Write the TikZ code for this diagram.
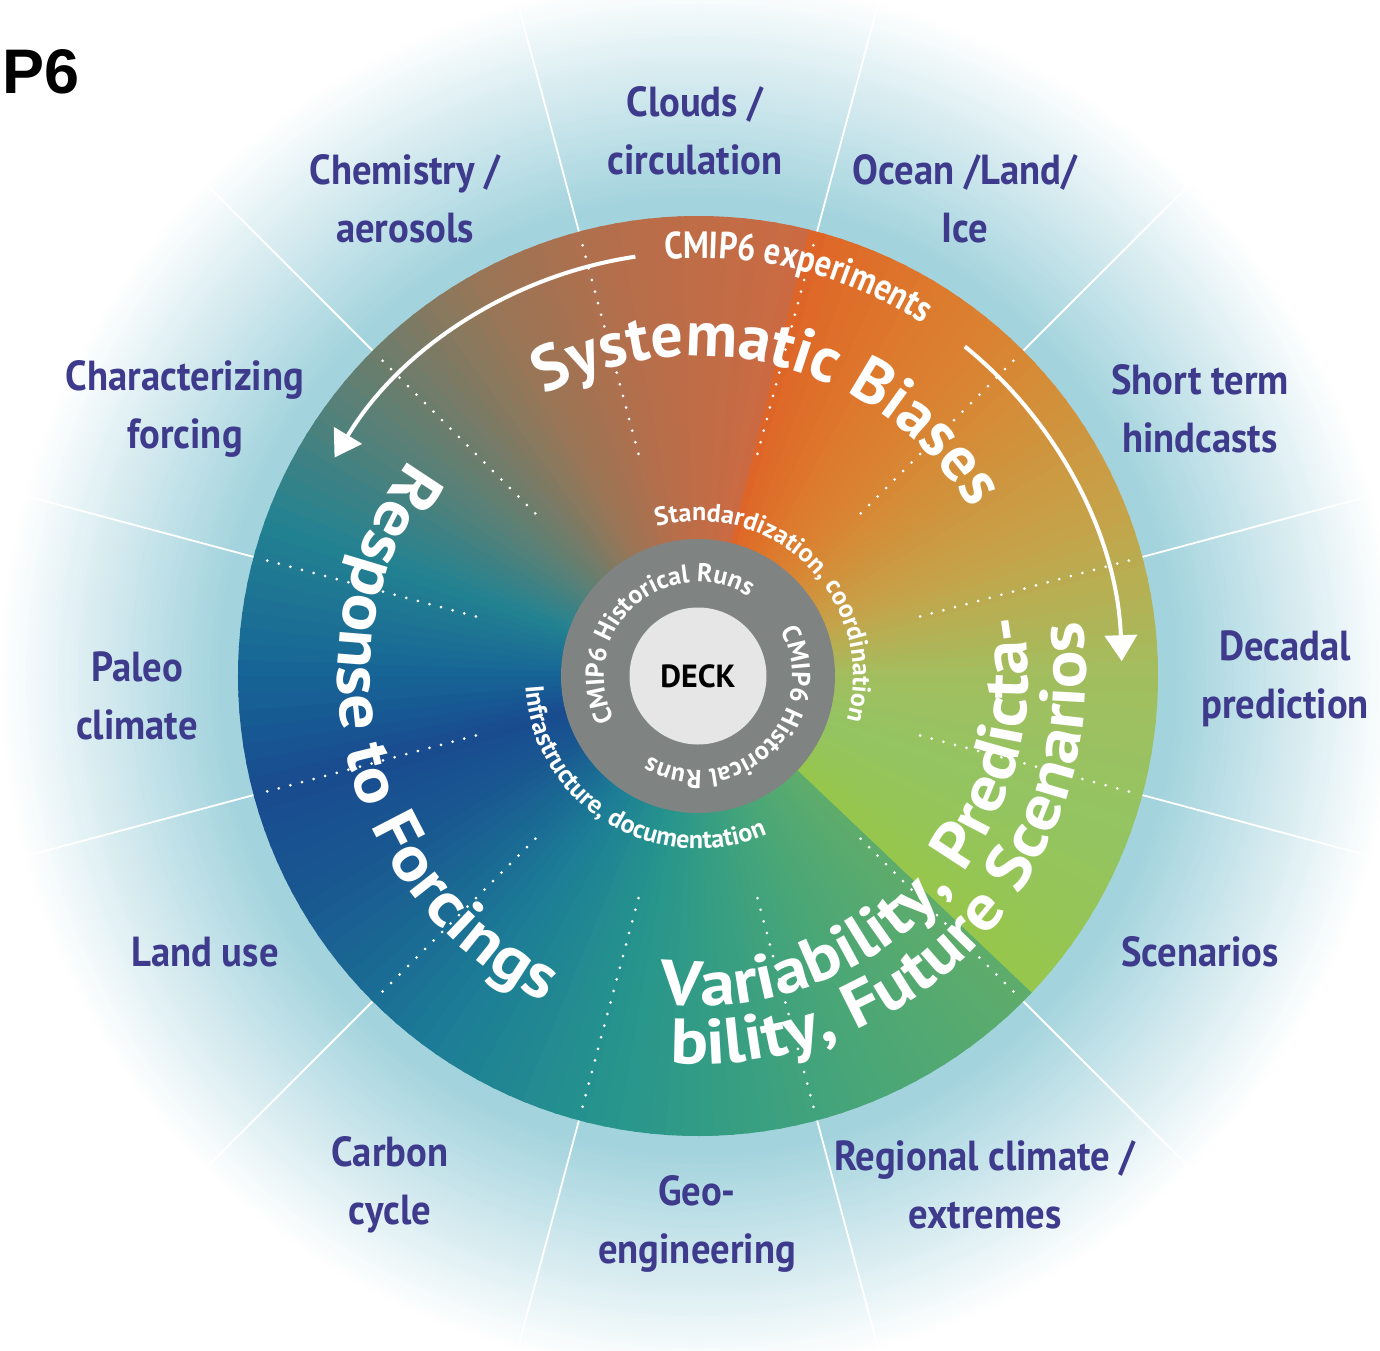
\documentclass[tikz,border=0pt]{standalone}
\usepackage{fontspec}
\setmainfont{PT Sans}
\newfontfamily\lblfont[FakeStretch=0.92]{PT Sans}
\newfontfamily\cmipfont[FakeStretch=0.85]{PT Sans}
\newfontfamily\wheelfont[FakeStretch=1.1]{PT Sans}
\newfontfamily\headfont{Liberation Sans}
\usetikzlibrary{decorations.text,arrows.meta}

\definecolor{lblblue}{RGB}{62,58,140}
\definecolor{halo}{RGB}{163,211,221}
\definecolor{ringgray}{RGB}{127,131,129}
\definecolor{deckgray}{RGB}{230,230,230}
% disk colours, counter-clockwise from -44 deg
\definecolor{s1}{RGB}{150,198,75}
\definecolor{s2}{RGB}{148,196,98}
\definecolor{s3}{RGB}{162,190,95}
\definecolor{s4}{RGB}{196,165,75}
\definecolor{s5}{RGB}{216,135,52}
\definecolor{s6}{RGB}{222,115,42}
\definecolor{s7}{RGB}{222,100,40}
\definecolor{s8}{RGB}{204,106,66}
\definecolor{s9}{RGB}{182,110,74}
\definecolor{s10}{RGB}{150,118,88}
\definecolor{s11}{RGB}{95,128,115}
\definecolor{s12}{RGB}{35,130,145}
\definecolor{s13}{RGB}{22,100,150}
\definecolor{s14}{RGB}{25,75,143}
\definecolor{s15}{RGB}{25,88,145}
\definecolor{s16}{RGB}{28,125,150}
\definecolor{s17}{RGB}{40,150,140}
\definecolor{s18}{RGB}{70,165,120}
\definecolor{s19}{RGB}{95,172,108}

\newcommand\bigtxt{\color{white}\wheelfont\bfseries\fontsize{32}{34}\selectfont}
\newcommand\toptxt{\color{white}\bfseries\fontsize{32}{34}\selectfont}
\newcommand\midtxt{\color{white}\cmipfont\bfseries\fontsize{19}{22}\selectfont}
\newcommand\smalltxt{\color{white}\bfseries\fontsize{13}{15}\selectfont}

\begin{document}
\begin{tikzpicture}[%
	x=0.5pt, y=0.5pt,
	lbl/.style={font=\lblfont\bfseries\fontsize{21}{29}\selectfont, text=lblblue, align=center},
	dotline/.style={white, line width=1.5pt, line cap=round, dash pattern=on 0pt off 6pt},
	spoke/.style={white, line width=0.9pt},
	arr/.style={white, line width=2pt, -{Triangle[length=13pt, width=16pt]}},
	curved/.style={decorate, decoration={text along path, text align=center, text={#1}}}
	]
	\clip (-698,-674) rectangle (682,676);
	\fill[white] (-698,-674) rectangle (682,676);
	
	% halo
	\foreach \rr in {700,696,...,460} {
		\pgfmathtruncatemacro\p{min(100,(700-\rr)/2.2)}
		\fill[halo!\p!white] (0,0) circle[radius=\rr];
	}
	\foreach \k in {0,...,11}
	\draw[spoke] ({15+30*\k}:460) -- ({15+30*\k}:720);
	
	% colour wheel
	\foreach \a/\b/\ca/\cb in {-44/-20/s1/s2, -20/0/s2/s3, 0/20/s3/s4, 20/45/s4/s5, 45/65/s5/s6, 65/76/s6/s7,
		76/100/s8/s9, 100/120/s9/s10, 120/140/s10/s11, 140/160/s11/s12, 160/180/s12/s13, 180/195/s13/s14,
		195/210/s14/s15, 210/235/s15/s16, 235/260/s16/s17, 260/290/s17/s18, 290/316/s18/s19} {
		\pgfmathtruncatemacro\n{max(1,(\b-\a)/2)}
		\foreach \i in {1,...,\n} {
			\pgfmathsetmacro\sa{\a+(\i-1)*(\b-\a)/\n}
			\pgfmathtruncatemacro\pc{100-100*(\i-0.5)/\n}
			\fill[\ca!\pc!\cb] (0,0) -- (\sa:460) arc[start angle=\sa, delta angle={(\b-\a)/\n+0.5}, radius=460] -- cycle;
		}
	}
	\foreach \k in {0,...,11}
	\draw[dotline] ({15+30*\k}:230) -- ({15+30*\k}:456);
	
	\draw[arr] (98.5:424) arc[start angle=98.5, end angle=149, radius=424];
	\draw[arr] (51:424) arc[start angle=51, end angle=2, radius=424];
	
	\path[curved={|\midtxt|CMIP6 experiments}] (130:418) arc[start angle=130, end angle=22, radius=418];
	\path[curved={|\toptxt|Systematic Biases}] (160:320) arc[start angle=160, end angle=-10, radius=320];
	\path[curved={|\bigtxt|Response to Forcings}] (110:360) arc[start angle=110, end angle=278, radius=360];
	\path[curved={|\bigtxt|Variability, Predicta-}] (240:330) arc[start angle=240, end angle=394, radius=330];
	\path[curved={|\bigtxt|bility, Future Scenarios}] (240:388) arc[start angle=240, end angle=394, radius=388];
	\path[curved={|\smalltxt|Standardization, coordination}] (144.5:155) arc[start angle=144.5, end angle=-55.5, radius=155];
	\path[curved={|\smalltxt|Infrastructure, documentation}] (138.5:173) arc[start angle=138.5, end angle=338.5, radius=173];
	
	% DECK core
	\fill[ringgray] (0,0) circle[radius=137];
	\node[circle, fill=deckgray, minimum size=68.5pt, inner sep=0pt, font=\bfseries\fontsize{16}{17}\selectfont] (deck) at (0,0) {DECK};
	\path[curved={|\smalltxt|CMIP6 Historical Runs}] (232.5:94) arc[start angle=232.5, end angle=32.5, radius=94];
	\path[curved={|\smalltxt|CMIP6 Historical Runs}] (54:94) arc[start angle=54, end angle=-146, radius=94];
	
	\node[lbl] (clouds) at (-3,545) {Clouds /\\circulation};
	\node[lbl] (chem) at (-293,477) {Chemistry /\\aerosols};
	\node[lbl] (ocean) at (267,477) {Ocean /Land/\\Ice};
	\node[lbl] (forcing) at (-513,267) {Characterizing\\forcing};
	\node[lbl] (hindcast) at (502,267) {Short term\\hindcasts};
	\node[lbl] (paleo) at (-561,-20) {Paleo\\climate};
	\node[lbl] (decadal) at (587,-3) {Decadal\\prediction};
	\node[lbl] (landuse) at (-493,-276) {Land use};
	\node[lbl] (scen) at (502,-276) {Scenarios};
	\node[lbl] (carbon) at (-308,-509) {Carbon\\cycle};
	\node[lbl] (geo) at (-1,-548) {Geo-\\engineering};
	\node[lbl] (regional) at (287,-509) {Regional climate /\\extremes};
	
	\node[font=\headfont\bfseries\fontsize{31.5}{32}\selectfont] (p6) at (-657,604) {P6};
\end{tikzpicture}
\end{document}
